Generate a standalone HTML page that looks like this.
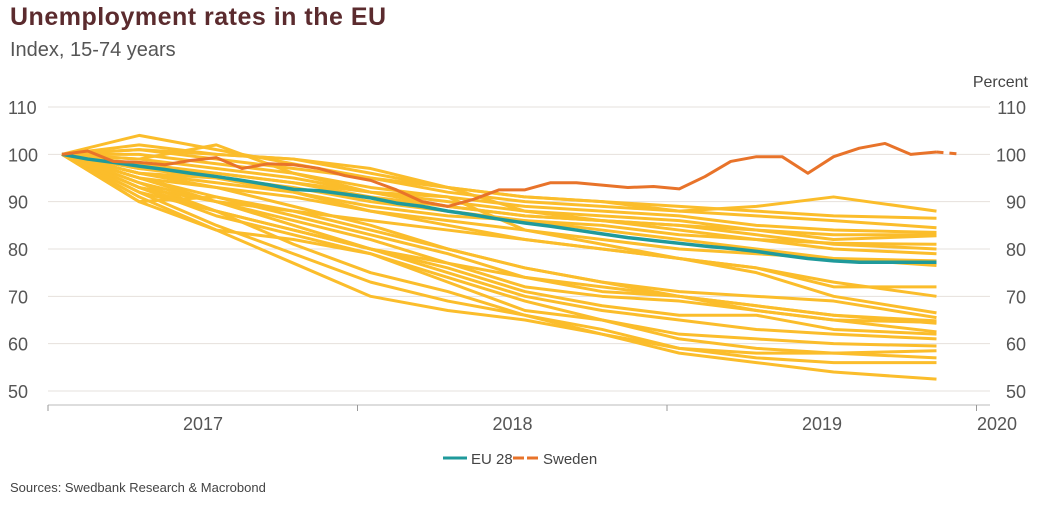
<!DOCTYPE html>
<html><head><meta charset="utf-8"><style>
body{margin:0;background:#fff;font-family:"Liberation Sans",sans-serif}
#wrap{position:relative;width:1048px;height:511px;overflow:hidden}
.t{position:absolute;white-space:nowrap}
</style></head><body>
<div id="wrap">
<div class="t" style="left:10px;top:3px;font-size:25px;font-weight:bold;color:#5b2b2e;letter-spacing:0.5px">Unemployment rates in the EU</div>
<div class="t" style="left:10px;top:39px;font-size:20px;color:#555">Index, 15-74 years</div>
<div class="t" style="left:10px;top:480px;font-size:13px;color:#444">Sources: Swedbank Research &amp; Macrobond</div>
<svg id="svg" width="1048" height="511" style="position:absolute;left:0;top:0"></svg>
</div>
<script>
const yTicks=[50,60,70,80,90,100,110];
const yearLabels=["2017","2018","2019","2020"];
const months=[0,3,6,9,12,15,18,21,24,27,30,34];
const eu28=[100,99,98.3,97.5,96.8,96,95.3,94.5,93.6,92.6,92.3,91.6,90.8,89.7,89,88,87.2,86.3,85.5,84.8,84,83.2,82.4,81.8,81.2,80.6,80.1,79.5,78.7,78,77.5,77.2,77.2,77.2,77.2];
const sweden=[100,100.7,98.5,98.3,97.8,98.7,99.3,97,98,97.8,97,95.5,94.5,92.5,90,89,90.5,92.5,92.5,94,94,93.5,93,93.2,92.7,95.3,98.5,99.5,99.5,96,99.5,101.3,102.3,100,100.5];
const swedenForecast=[100.5,100];
const countries=[
[100,104,101,98,95,92,90,89,88,89,91,88],
[100,102,100,99,96,93,91,90,89,88,87,86.5],
[100,101,99,97,95,93,91,90,88,87,86,84.5],
[100,100,98,96,93,91,89,88,87,85,84,83.5],
[100,99,97,95,92,90,88,87,86,84,82,82.8],
[100,98,96,94,91,89,87,86,85,83,81,80],
[100,97,95,93,90,88,86,85,83,82,80,79],
[100,96,94,92,89,87,86,84,82,80,78,77.5],
[100,95,93,91,88,86,84,82,80,79,78,76.5],
[100,97,96,94,92,91,84,81,78,76,73,70],
[100,93,90,88,86,84,82,80,78,75,70,66.5],
[100,96,93,89,85,80,76,73,71,70,69,65.5],
[100,95,91,87,83,79,74,71,70,68,66,64.8],
[100,94,90,86,82,77,72,70,69,67,65,64.5],
[100,92,88,84,80,76,71,68,66,66,63,62],
[100,95,90,85,80,75,70,67,65,63,62,61],
[100,93,87,83,79,74,69,65,62,61,60,59.5],
[100,90,84,82,79,73,67,65,61,59,58,58.5],
[100,94,88,81,75,71,66,63,59,58,58,57],
[100,92,85,79,73,69,66,62,59,57,56,56],
[100,91,84,77,70,67,65,62,58,56,54,52.5],
[100,93,88,84,80,77,74,72,70,68,66,64.3],
[100,90,91,88,84,80,76,73,70,67,65,62.5],
[100,99,102,96,92,89,87,86,84,82,81.2,81],
[100,96,95,92,88,85,82,80,78,76,72,72],
[100,101,100,99,97,93,88,86,85,84,83,83]
];
const NS="http://www.w3.org/2000/svg",svg=document.getElementById('svg');
const X=m=>62+m*25.72, Y=v=>107+(110-v)*4.733;
function mk(tag,at){const e=document.createElementNS(NS,tag);for(const k in at)e.setAttribute(k,at[k]);svg.appendChild(e);return e;}
yTicks.forEach(v=>{
 const g=mk('line',{x1:48,x2:990,y1:Y(v),y2:Y(v),stroke:'#e6e1dc','stroke-width':1});
 
 
 const l=mk('text',{x:8,y:Y(v)+7,'font-size':18,fill:'#555'});l.textContent=v;
 
 
 const r=mk('text',{x:1026,y:Y(v)+7,'font-size':18,fill:'#555','text-anchor':'end'});r.textContent=v;
 
 
});
const pc=mk('text',{x:1028,y:87,'font-size':16,fill:'#444','text-anchor':'end'});pc.textContent='Percent';


const ax=mk('line',{x1:48,x2:990,y1:405,y2:405,stroke:'#bbb'});


yearLabels.forEach((y,i)=>{
 const tx=48+i*309.5;
 const tk=mk('line',{x1:tx,x2:tx,y1:405,y2:411,stroke:'#999'});
 
 
 const cx=i<3?tx+155:997;
 const t=mk('text',{x:cx,y:430,'font-size':18,fill:'#555','text-anchor':'middle'});t.textContent=y;
 
 
});
const pts=(arr,ms)=>arr.map((v,i)=>X(ms?ms[i]:i)+','+Y(v)).join(' ');
countries.forEach((c,i)=>{
 const p=mk('polyline',{points:pts(c,months),fill:'none',stroke:'#fbbd2b','stroke-width':3,'stroke-linejoin':'round'});
 
 
});
const e=mk('polyline',{points:pts(eu28),fill:'none',stroke:'#1f9a9b','stroke-width':3.5,'stroke-linejoin':'round'});


const s=mk('polyline',{points:pts(sweden),fill:'none',stroke:'#e8732a','stroke-width':3,'stroke-linejoin':'round'});


const sf=mk('polyline',{points:pts(swedenForecast,[34,35]),fill:'none',stroke:'#e8732a','stroke-width':3,'stroke-dasharray':'7,6'});


const l1=mk('line',{x1:443,x2:467,y1:458,y2:458,stroke:'#1f9a9b','stroke-width':3});


const lt1=mk('text',{x:471,y:464,'font-size':15,fill:'#444'});lt1.textContent='EU 28';


const l2=mk('line',{x1:513,x2:539,y1:458,y2:458,stroke:'#e8732a','stroke-width':3,'stroke-dasharray':'11,3'});


const lt2=mk('text',{x:543,y:464,'font-size':15,fill:'#444'});lt2.textContent='Sweden';


</script>
</body></html>
